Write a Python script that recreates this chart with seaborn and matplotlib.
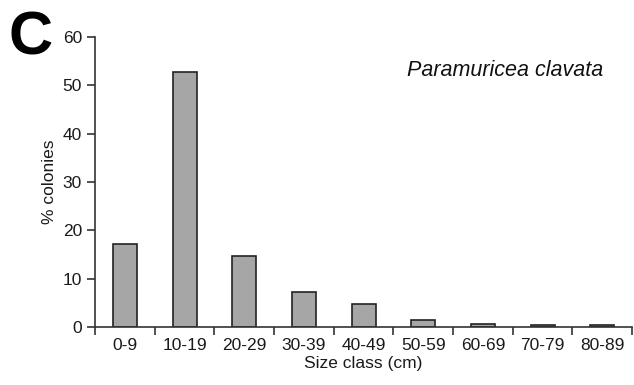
import numpy as np
import pandas as pd
import matplotlib
matplotlib.use("Agg")
import matplotlib.pyplot as plt
import seaborn as sns

size_classes = ["0-9", "10-19", "20-29", "30-39", "40-49", "50-59", "60-69", "70-79", "80-89"]
pct_colonies = [17.2, 52.8, 14.7, 7.3, 4.8, 1.4, 0.6, 0.3, 0.3]

sns.set_theme(style="ticks")
plt.rcParams["font.family"] = ["Liberation Sans", "DejaVu Sans"]

df = pd.DataFrame({"size": size_classes, "pct": pct_colonies})

fig = plt.figure(figsize=(6.34, 3.85), dpi=100)
ax = fig.add_axes([0.15, 0.151, 0.847, 0.753])

sns.barplot(data=df, x="size", y="pct", color="#a6a6a6", saturation=1,
            width=0.4, edgecolor="#222222", linewidth=1.2, ax=ax)

ax.set_xlim(-0.5, len(size_classes) - 0.5)
ax.set_ylim(0, 60)
ax.set_yticks(range(0, 61, 10))

# ticks at category boundaries, labels at centres
ax.set_xticks(np.arange(-0.5, len(size_classes)), [])
ax.set_xticks(np.arange(len(size_classes)), size_classes, minor=True)
ax.tick_params(axis="x", which="major", length=6, width=1.2, color="#333333", direction="out")
ax.tick_params(axis="x", which="minor", length=0, labelsize=12.5, pad=8, labelcolor="#1a1a1a")
ax.tick_params(axis="y", length=6, width=1.2, color="#333333", labelsize=12.5, labelcolor="#1a1a1a")

for s in ["top", "right"]:
    ax.spines[s].set_visible(False)
for s in ["left", "bottom"]:
    ax.spines[s].set_color("#333333")
    ax.spines[s].set_linewidth(1.2)

ax.set_xlabel("Size class (cm)", fontsize=12.5, color="#1a1a1a", labelpad=2)
ax.set_ylabel("% colonies", fontsize=12.5, color="#1a1a1a", labelpad=4)

ax.text(0.947, 0.885, "Paramuricea clavata", transform=ax.transAxes, ha="right", va="center",
        fontsize=15.5, style="italic", color="#111111")
fig.text(0.014, 0.972, "C", fontsize=44, fontweight="bold", ha="left", va="top", color="black")

fig.savefig("out.png", dpi=100)
